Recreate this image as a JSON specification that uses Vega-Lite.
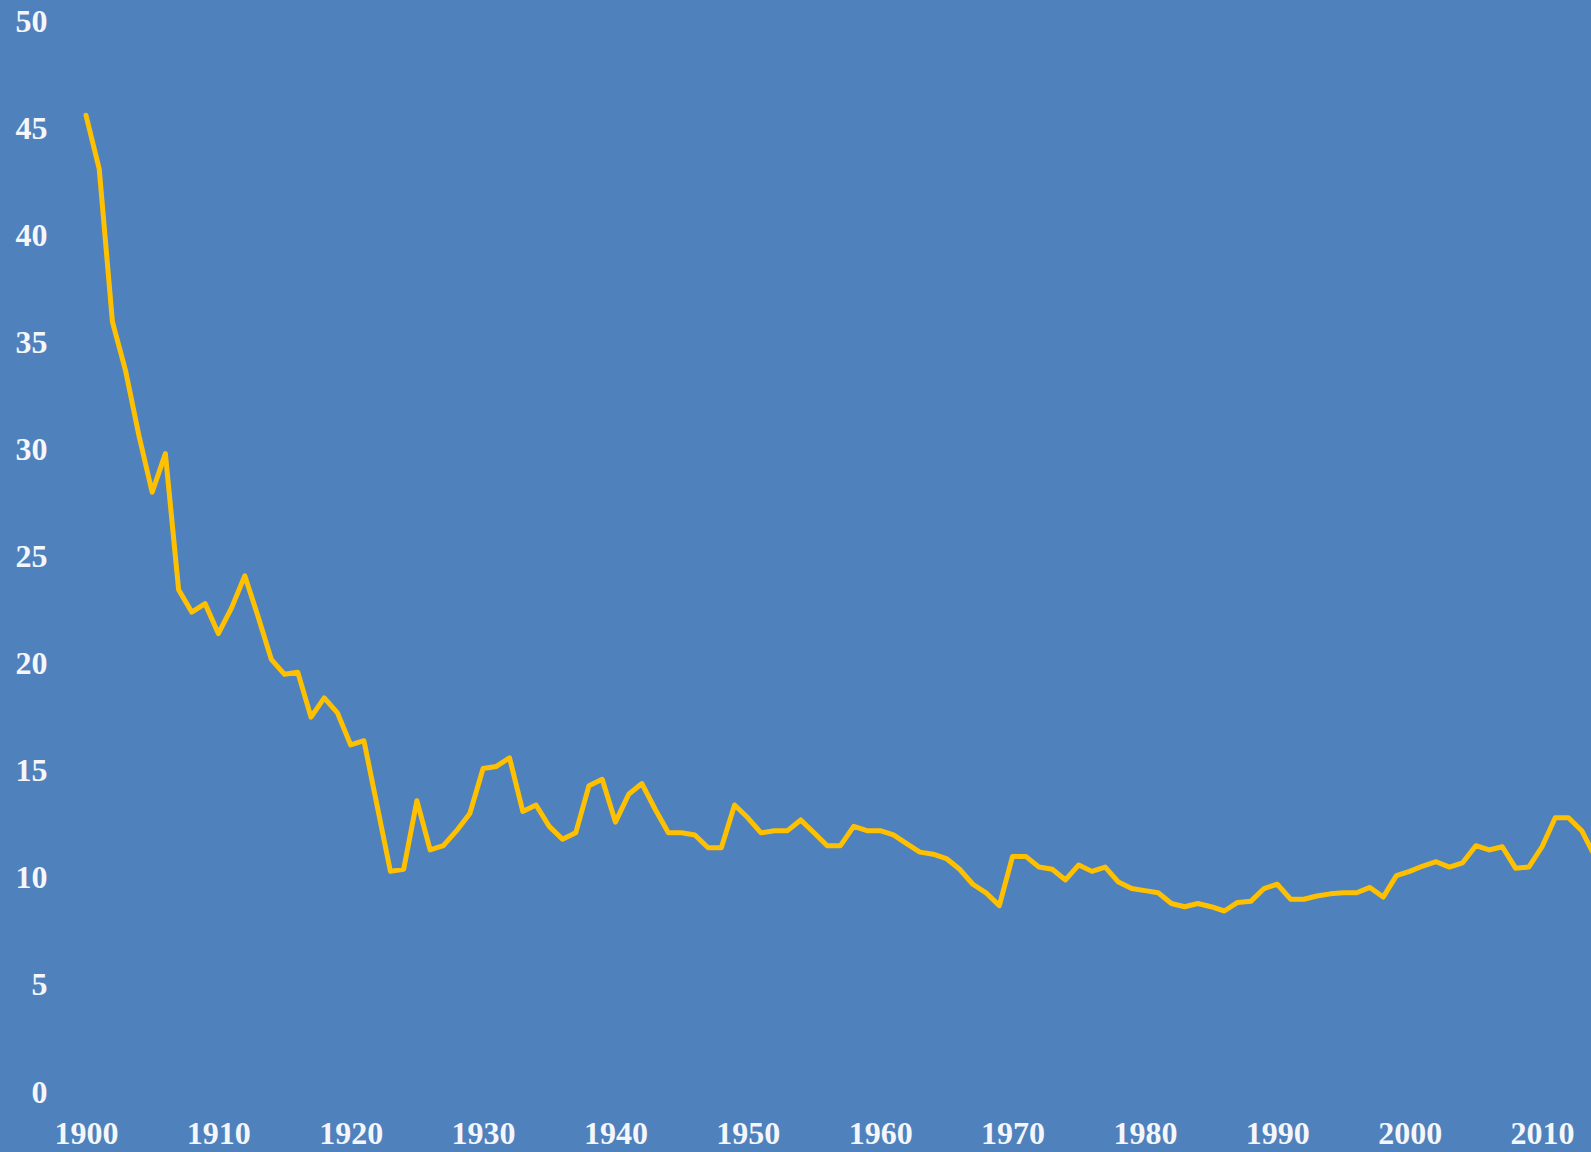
{
  "$schema": "https://vega.github.io/schema/vega-lite/v6.json",
  "autosize": {"type": "none"},
  "padding": {"left": 55, "top": 21, "right": 0, "bottom": 60},
  "width": 1536,
  "height": 1071,
  "background": "#4F81BD",
  "config": {
    "view": {"stroke": null},
    "axis": {
      "grid": false,
      "domain": false,
      "ticks": false,
      "tickSize": 0,
      "labelFont": "Liberation Serif",
      "labelFontWeight": "bold",
      "labelFontSize": 32,
      "labelColor": "#F4F6FA",
      "labelFlush": false,
      "labelOverlap": false,
      "title": null
    }
  },
  "data": {
    "values": [
      {"year": 1900, "value": 45.6},
      {"year": 1901, "value": 43.1},
      {"year": 1902, "value": 35.95},
      {"year": 1903, "value": 33.65},
      {"year": 1904, "value": 30.65},
      {"year": 1905, "value": 28.0},
      {"year": 1906, "value": 29.8},
      {"year": 1907, "value": 23.45},
      {"year": 1908, "value": 22.4},
      {"year": 1909, "value": 22.8},
      {"year": 1910, "value": 21.4},
      {"year": 1911, "value": 22.6},
      {"year": 1912, "value": 24.1},
      {"year": 1913, "value": 22.2},
      {"year": 1914, "value": 20.2},
      {"year": 1915, "value": 19.5},
      {"year": 1916, "value": 19.6},
      {"year": 1917, "value": 17.5},
      {"year": 1918, "value": 18.4},
      {"year": 1919, "value": 17.7},
      {"year": 1920, "value": 16.2},
      {"year": 1921, "value": 16.4},
      {"year": 1922, "value": 13.35},
      {"year": 1923, "value": 10.3},
      {"year": 1924, "value": 10.4},
      {"year": 1925, "value": 13.6},
      {"year": 1926, "value": 11.3},
      {"year": 1927, "value": 11.5},
      {"year": 1928, "value": 12.2},
      {"year": 1929, "value": 13.0},
      {"year": 1930, "value": 15.1},
      {"year": 1931, "value": 15.2},
      {"year": 1932, "value": 15.6},
      {"year": 1933, "value": 13.1},
      {"year": 1934, "value": 13.4},
      {"year": 1935, "value": 12.4},
      {"year": 1936, "value": 11.8},
      {"year": 1937, "value": 12.1},
      {"year": 1938, "value": 14.3},
      {"year": 1939, "value": 14.6},
      {"year": 1940, "value": 12.6},
      {"year": 1941, "value": 13.9},
      {"year": 1942, "value": 14.4},
      {"year": 1943, "value": 13.2},
      {"year": 1944, "value": 12.1},
      {"year": 1945, "value": 12.1},
      {"year": 1946, "value": 12.0},
      {"year": 1947, "value": 11.4},
      {"year": 1948, "value": 11.4},
      {"year": 1949, "value": 13.4},
      {"year": 1950, "value": 12.8},
      {"year": 1951, "value": 12.1},
      {"year": 1952, "value": 12.2},
      {"year": 1953, "value": 12.2},
      {"year": 1954, "value": 12.7},
      {"year": 1955, "value": 12.1},
      {"year": 1956, "value": 11.5},
      {"year": 1957, "value": 11.5},
      {"year": 1958, "value": 12.4},
      {"year": 1959, "value": 12.2},
      {"year": 1960, "value": 12.2},
      {"year": 1961, "value": 12.0},
      {"year": 1962, "value": 11.6},
      {"year": 1963, "value": 11.2},
      {"year": 1964, "value": 11.1},
      {"year": 1965, "value": 10.9},
      {"year": 1966, "value": 10.4},
      {"year": 1967, "value": 9.7},
      {"year": 1968, "value": 9.3},
      {"year": 1969, "value": 8.7},
      {"year": 1970, "value": 11.0},
      {"year": 1971, "value": 11.0},
      {"year": 1972, "value": 10.5},
      {"year": 1973, "value": 10.4},
      {"year": 1974, "value": 9.9},
      {"year": 1975, "value": 10.6},
      {"year": 1976, "value": 10.3},
      {"year": 1977, "value": 10.5},
      {"year": 1978, "value": 9.8},
      {"year": 1979, "value": 9.5},
      {"year": 1980, "value": 9.4},
      {"year": 1981, "value": 9.3},
      {"year": 1982, "value": 8.8},
      {"year": 1983, "value": 8.65},
      {"year": 1984, "value": 8.8},
      {"year": 1985, "value": 8.65},
      {"year": 1986, "value": 8.45},
      {"year": 1987, "value": 8.85},
      {"year": 1988, "value": 8.9},
      {"year": 1989, "value": 9.5},
      {"year": 1990, "value": 9.7},
      {"year": 1991, "value": 9.0},
      {"year": 1992, "value": 9.0},
      {"year": 1993, "value": 9.15},
      {"year": 1994, "value": 9.25},
      {"year": 1995, "value": 9.3},
      {"year": 1996, "value": 9.3},
      {"year": 1997, "value": 9.55},
      {"year": 1998, "value": 9.1},
      {"year": 1999, "value": 10.1},
      {"year": 2000, "value": 10.3},
      {"year": 2001, "value": 10.55},
      {"year": 2002, "value": 10.75},
      {"year": 2003, "value": 10.5},
      {"year": 2004, "value": 10.7},
      {"year": 2005, "value": 11.5},
      {"year": 2006, "value": 11.3},
      {"year": 2007, "value": 11.45},
      {"year": 2008, "value": 10.45},
      {"year": 2009, "value": 10.5},
      {"year": 2010, "value": 11.45},
      {"year": 2011, "value": 12.8},
      {"year": 2012, "value": 12.8},
      {"year": 2013, "value": 12.2},
      {"year": 2014, "value": 11.0}
    ]
  },
  "mark": {"type": "line", "color": "#FFC000", "strokeWidth": 5, "clip": true, "strokeJoin": "round", "strokeCap": "round"},
  "encoding": {
    "x": {
      "field": "year",
      "type": "quantitative",
      "scale": {"domain": [1897.66, 2013.7], "nice": false, "zero": false},
      "axis": {
        "values": [1900, 1910, 1920, 1930, 1940, 1950, 1960, 1970, 1980, 1990, 2000, 2010],
        "format": "d",
        "labelBaseline": "top",
        "labelPadding": 26
      }
    },
    "y": {
      "field": "value",
      "type": "quantitative",
      "scale": {"domain": [0, 50], "nice": false},
      "axis": {
        "values": [0, 5, 10, 15, 20, 25, 30, 35, 40, 45, 50],
        "labelPadding": 8,
        "labelBaseline": "middle"
      }
    }
  }
}
